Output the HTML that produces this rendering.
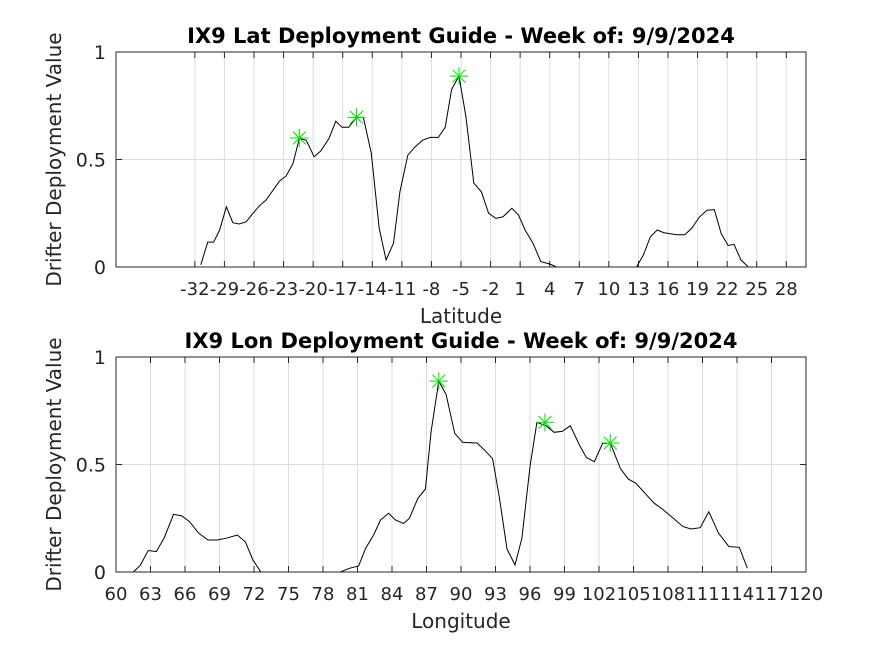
<!DOCTYPE html>
<html><head><meta charset="utf-8"><style>
html,body{margin:0;padding:0;background:#fff;}
svg{display:block;font-family:"DejaVu Sans","Liberation Sans",sans-serif;}
</style></head><body>
<svg id="chart" width="891" height="645" viewBox="0 0 891 645" xmlns="http://www.w3.org/2000/svg"></svg>
<script>
const latX = [-31.4,-30.7,-30.1,-29.5,-28.8,-28.15,-27.5,-26.8,-26.1,-25.4,-24.8,-24.1,-23.4,-22.75,-22.05,-21.4,-20.7,-19.9,-19.25,-18.4,-17.7,-17.07,-16.4,-15.6,-14.9,-14.1,-13.3,-12.6,-11.85,-11.2,-10.4,-9.7,-8.9,-8.1,-7.3,-6.6,-5.95,-5.2,-4.5,-3.7,-2.93,-2.2,-1.45,-0.75,0.15,0.83,1.5,2.3,3.1,4.0,4.7,12.8,13.5,14.2,14.9,15.55,16.2,16.9,17.7,18.4,19.2,19.96,20.7,21.4,22.1,22.7,23.4,24.1];
const latY = [0.01,0.116,0.116,0.17,0.28,0.206,0.2,0.21,0.25,0.287,0.31,0.355,0.4,0.423,0.48,0.597,0.59,0.513,0.538,0.597,0.678,0.65,0.65,0.696,0.696,0.529,0.18,0.033,0.11,0.35,0.52,0.557,0.59,0.603,0.603,0.65,0.826,0.888,0.7,0.39,0.35,0.25,0.226,0.233,0.273,0.242,0.172,0.11,0.025,0.014,0,0,0.056,0.14,0.172,0.16,0.155,0.15,0.15,0.18,0.233,0.264,0.267,0.156,0.1,0.105,0.033,0.003];
const latPeaksX = [-21.4,-15.6,-5.2];
const latPeaksY = [0.6,0.696,0.888];
const latTicks = [-32,-29,-26,-23,-20,-17,-14,-11,-8,-5,-2,1,4,7,10,13,16,19,22,25,28];

const lonX = [61.5,62.1,62.8,63.5,64.2,65.0,65.7,66.4,67.2,68.0,68.8,69.6,70.55,71.25,71.9,72.6,79.5,80.3,81.1,81.7,82.4,83.0,83.7,84.3,85.0,85.5,86.25,86.9,87.4,88.07,88.7,89.45,90.15,91.4,92.1,92.75,93.35,94.0,94.7,95.3,96.0,96.6,97.4,98.1,98.8,99.5,100.3,100.9,101.6,102.3,102.98,103.85,104.55,105.2,106.0,106.8,107.5,108.4,109.3,110.0,110.8,111.55,112.4,113.3,114.2,114.9];
const lonY = [0,0.03,0.1,0.095,0.16,0.268,0.262,0.234,0.18,0.149,0.149,0.157,0.172,0.14,0.056,0,0,0.017,0.028,0.11,0.172,0.242,0.273,0.242,0.226,0.249,0.343,0.386,0.653,0.888,0.826,0.645,0.603,0.6,0.564,0.527,0.343,0.107,0.033,0.157,0.49,0.696,0.68,0.65,0.654,0.68,0.59,0.532,0.513,0.597,0.6,0.482,0.432,0.413,0.366,0.32,0.293,0.253,0.211,0.2,0.206,0.28,0.18,0.118,0.115,0.017];
const lonPeaksX = [88.07,97.3,102.98];
const lonPeaksY = [0.888,0.696,0.6];
const lonTicks = [60,63,66,69,72,75,78,81,84,87,90,93,96,99,102,105,108,111,114,117,120];
const yTicks = [0,0.5,1];
const yTickLabels = ["0","0.5","1"];

const NS = "http://www.w3.org/2000/svg";
const svg = document.getElementById('chart');
function mk(tag, attrs, parent){
  const e = document.createElementNS(NS, tag);
  for (const k in attrs) e.setAttribute(k, attrs[k]);
  (parent||svg).appendChild(e);
  return e;
}
function drawPanel(opt){
  const L=116, R=806, T=opt.top, B=opt.top+215;
  const sx = v => L + (v-opt.xmin)/(opt.xmax-opt.xmin)*(R-L);
  const sy = v => B - v*(B-T);
  const g = mk('g', {});
  
  
  mk('rect',{x:L,y:T,width:R-L,height:B-T,fill:'#fff'},g);
  opt.ticks.forEach(t=>{
    const x=sx(t);
    const gl=mk('line',{x1:x,x2:x,y1:T,y2:B,stroke:'#dcdcdc','stroke-width':1},g);
    
    
    mk('line',{x1:x,x2:x,y1:B,y2:B-6,stroke:'#262626','stroke-width':1},g);
    mk('line',{x1:x,x2:x,y1:T,y2:T+6,stroke:'#262626','stroke-width':1},g);
    const tl=mk('text',{x:x,y:B+28,'text-anchor':'middle','font-size':'18',fill:'#262626'},g);
    tl.textContent=String(t);
    
    
  });
  yTicks.forEach((t,i)=>{
    const y=sy(t);
    if(t>0&&t<1){
      const gl=mk('line',{x1:L,x2:R,y1:y,y2:y,stroke:'#dcdcdc','stroke-width':1},g);
      
      
    }
    mk('line',{x1:L,x2:L+6,y1:y,y2:y,stroke:'#262626'},g);
    mk('line',{x1:R,x2:R-6,y1:y,y2:y,stroke:'#262626'},g);
    const tl=mk('text',{x:L-10,y:y+7,'text-anchor':'end','font-size':'19',fill:'#262626'},g);
    tl.textContent=yTickLabels[i];
    
    
  });
  const pts = opt.xs.map((v,i)=>sx(v).toFixed(1)+','+sy(opt.ys[i]).toFixed(1)).join(' ');
  const line=mk('polyline',{points:pts,fill:'none',stroke:'#000','stroke-width':1},g);
  
  
  opt.px.forEach((v,i)=>{
    const cx=sx(v), cy=sy(opt.py[i]), r=9, d=6.4;
    const s=mk('g',{stroke:'#00e000','stroke-width':1},g);
    
    
    mk('line',{x1:cx-r,x2:cx+r,y1:cy,y2:cy},s);
    mk('line',{x1:cx,x2:cx,y1:cy-r,y2:cy+r},s);
    mk('line',{x1:cx-d,x2:cx+d,y1:cy-d,y2:cy+d},s);
    mk('line',{x1:cx-d,x2:cx+d,y1:cy+d,y2:cy-d},s);
  });
  const box=mk('rect',{x:L,y:T,width:R-L,height:B-T,fill:'none',stroke:'#262626','stroke-width':1},g);
  
  
  const title=mk('text',{x:(L+R)/2,y:T-9,'text-anchor':'middle','font-size':'21','font-weight':'bold',fill:'#000'},g);
  title.textContent=opt.title;
  
  
  const xl=mk('text',{x:(L+R)/2,y:B+56,'text-anchor':'middle','font-size':'20',fill:'#262626'},g);
  xl.textContent=opt.xlabel;
  
  
  const yc=(T+B)/2;
  const yl=mk('text',{x:0,y:0,'text-anchor':'middle','font-size':'20',fill:'#262626',transform:'translate(61,'+yc+') rotate(-90)'},g);
  yl.textContent='Drifter Deployment Value';
  
  
}
drawPanel({name:'lat-panel',top:52,xmin:-40,xmax:30,ticks:latTicks,xs:latX,ys:latY,px:latPeaksX,py:latPeaksY,title:'IX9 Lat Deployment Guide - Week of: 9/9/2024',xlabel:'Latitude'});
drawPanel({name:'lon-panel',top:357,xmin:60,xmax:120,ticks:lonTicks,xs:lonX,ys:lonY,px:lonPeaksX,py:lonPeaksY,title:'IX9 Lon Deployment Guide - Week of: 9/9/2024',xlabel:'Longitude'});
</script>
</body></html>
